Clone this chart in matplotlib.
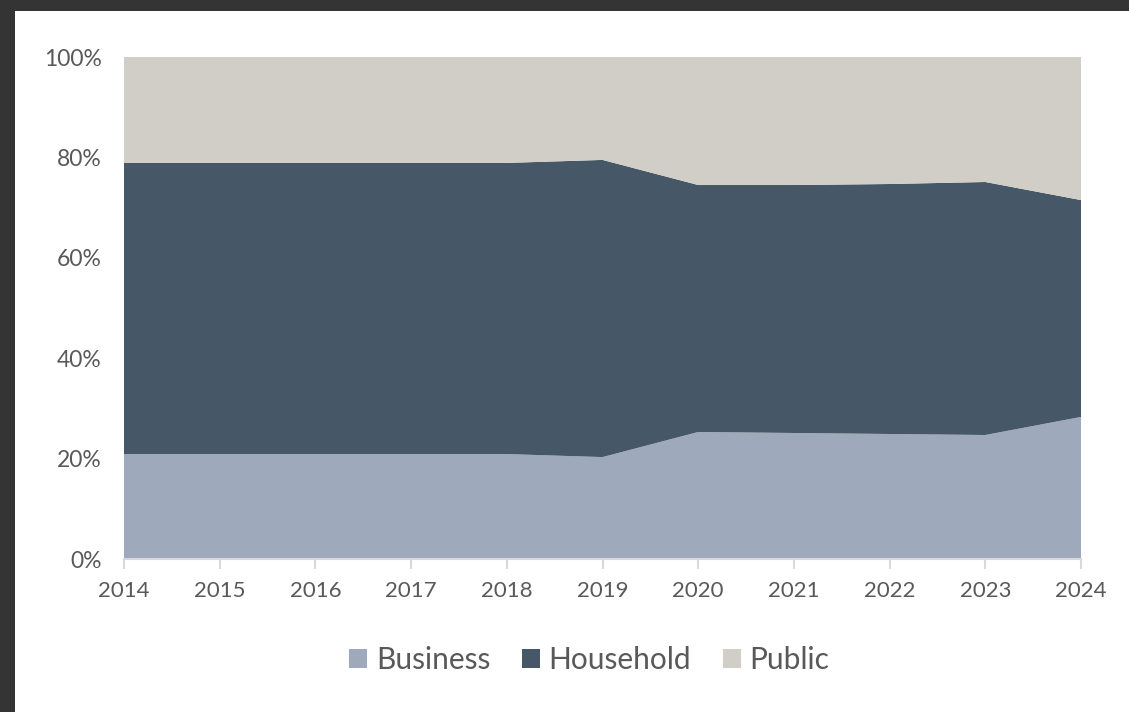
import matplotlib.pyplot as plt
from matplotlib.patches import Rectangle, Patch
from matplotlib.ticker import FuncFormatter

years = [2014, 2015, 2016, 2017, 2018, 2019, 2020, 2021, 2022, 2023, 2024]
business = [20.9, 20.9, 20.9, 20.9, 20.9, 20.3, 25.3, 25.1, 24.9, 24.7, 28.3]
household = [58.0, 58.0, 58.0, 58.0, 58.0, 59.2, 49.2, 49.4, 49.8, 50.4, 43.2]
public = [21.1, 21.1, 21.1, 21.1, 21.1, 20.5, 25.5, 25.5, 25.3, 24.9, 28.5]

names = ["Business", "Household", "Public"]
colors = ["#9FA9BC", "#465867", "#D1CEC8"]
text_col = "#595959"

plt.rcParams['font.family'] = ['Lato', 'DejaVu Sans']

fig = plt.figure(figsize=(11.29, 7.12), dpi=100)
fig.patch.set_facecolor("#343434")
fig.patches.append(Rectangle((15 / 1129, 0), 1, 1 - 11 / 712, transform=fig.transFigure,
                             facecolor="white", edgecolor="none", zorder=-10))

ax = fig.add_axes([124 / 1129, 1 - 559 / 712, (1081 - 124) / 1129, (559 - 57) / 712])
ax.set_zorder(1)
ax.patch.set_alpha(0)
ax.stackplot(years, business, household, public, colors=colors, linewidth=0)
ax.set_xlim(2014, 2024)
ax.set_ylim(0, 100)
ax.set_xticks(years)
ax.set_yticks(range(0, 101, 20))
ax.yaxis.set_major_formatter(FuncFormatter(lambda v, p: "%d%%" % v))

for s in ["top", "right", "left"]:
    ax.spines[s].set_visible(False)
ax.spines["bottom"].set_color("#D9D9D9")
ax.spines["bottom"].set_linewidth(1.5)
ax.tick_params(axis="x", colors="#D9D9D9", length=7, width=1.5, labelcolor=text_col,
               labelsize=16, pad=9)
ax.tick_params(axis="y", length=0, labelcolor=text_col, labelsize=16.5, pad=16)

handles = [Patch(facecolor=c, edgecolor="none") for c in colors]
leg = fig.legend(handles, names, loc="center", bbox_to_anchor=(0.522, 1 - 660 / 712),
                 ncol=3, frameon=False, fontsize=21.5, handlelength=0.6, handleheight=0.6,
                 handletextpad=0.3, columnspacing=1.05)
for t in leg.get_texts():
    t.set_color(text_col)

fig.savefig("out.png", dpi=100, facecolor=fig.get_facecolor())
